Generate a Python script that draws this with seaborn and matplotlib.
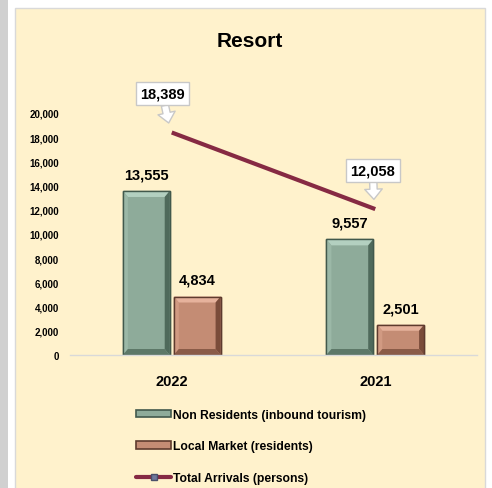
import pandas as pd
import matplotlib
matplotlib.use("Agg")
import matplotlib.pyplot as plt
from matplotlib.patches import Rectangle, Patch, Polygon
from matplotlib.lines import Line2D
import seaborn as sns

# data
years = ["2022", "2021"]
non_residents = [13555, 9557]
local_market = [4834, 2501]
total_arrivals = [18389, 12058]
series_names = ["Non Residents (inbound tourism)", "Local Market (residents)"]
line_name = "Total Arrivals (persons)"

df = pd.DataFrame({
    "Year": years * 2,
    "Series": [series_names[0]] * 2 + [series_names[1]] * 2,
    "Value": non_residents + local_market,
})

green = "#8eab9a"
brown = "#c48c74"
maroon = "#862a43"
beige = "#fff2cc"
# bevel shades: top, left, right, bottom, edge
shades = {
    green: ["#b3d0c0", "#9bb8a7", "#4f6a5b", "#5d7868", "#42594c"],
    brown: ["#e6b29c", "#d19a82", "#7a4c3a", "#8a5b47", "#5e3b2e"],
}

sns.set_theme(style="white")
plt.rcParams["font.family"] = ["Liberation Sans", "DejaVu Sans"]
plt.rcParams["font.weight"] = "bold"
plt.rcParams["text.color"] = "black"
plt.rcParams["xtick.color"] = "black"
plt.rcParams["ytick.color"] = "black"

fig = plt.figure(figsize=(4.92, 4.89), dpi=100)
fig.patch.set_facecolor("white")
# grey strip and chart panel
fig.patches.append(Rectangle((0, 0), 8 / 492, 1, transform=fig.transFigure,
                             fc="#d0d0d0", ec="none", zorder=-10))
fig.patches.append(Rectangle((15 / 492, -0.01), 470 / 492, 1 - 9 / 489 + 0.01,
                             transform=fig.transFigure, fc=beige, ec="#d9d9d9",
                             lw=1, zorder=-9))

ax = fig.add_axes([70 / 492, 1 - 356 / 489, 407 / 492, 242 / 489])
ax.set_facecolor("none")

sns.barplot(data=df, x="Year", y="Value", hue="Series", order=years,
            hue_order=series_names, palette=[green, brown], width=0.5,
            gap=0.08, ax=ax, legend=False, saturation=1)

ax.set_ylim(0, 20000)
ax.set_xlim(-0.5, 1.5)

# bevel look on each bar (derived from the bar patches)
bx, by = 5 / 203.5, 6 / 0.0121
for bars, c, vals in zip(ax.containers, [green, brown], [non_residents, local_market]):
    top, left, right, bottom, ec = shades[c]
    for p in bars:
        x, y, w, h = p.get_x(), p.get_y(), p.get_width(), p.get_height()
        p.set_edgecolor(ec)
        p.set_linewidth(1.0)
        polys = [
            ([(x, y + h), (x + w, y + h), (x + w - bx, y + h - by), (x + bx, y + h - by)], top),
            ([(x, y), (x, y + h), (x + bx, y + h - by), (x + bx, y + by)], left),
            ([(x + w, y), (x + w, y + h), (x + w - bx, y + h - by), (x + w - bx, y + by)], right),
            ([(x, y), (x + w, y), (x + w - bx, y + by), (x + bx, y + by)], bottom),
        ]
        for pts, col in polys:
            ax.add_patch(Polygon(pts, closed=True, fc=col, ec="none", zorder=p.get_zorder() + 0.1))
        ax.add_patch(Rectangle((x, y), w, h, fc="none", ec=ec, lw=1.0, zorder=p.get_zorder() + 0.2))
    ax.bar_label(bars, labels=[f"{v:,}" for v in vals], padding=7,
                 fontsize=10.5, fontweight="bold")

# total arrivals line
ax.plot(range(len(years)), total_arrivals, color=maroon, lw=3,
        solid_capstyle="butt", zorder=5)
for i, v in enumerate(total_arrivals):
    dx = -5 if i == 0 else 0
    ax.annotate(f"{v:,}", xy=(i - 0.005, v), xycoords="data",
                xytext=(dx - 1, 28), textcoords="offset points",
                ha="center", va="center", fontsize=10.5, fontweight="bold",
                bbox=dict(boxstyle="square,pad=0.3", fc="white", ec="#c8c8c8", lw=1),
                arrowprops=dict(arrowstyle="simple,head_width=1.2,head_length=0.7,tail_width=0.5",
                                fc="white", ec="#c8c8c8", shrinkA=0, shrinkB=7),
                annotation_clip=False, zorder=6)

ax.set_yticks(range(0, 20001, 2000))
ax.set_yticklabels([f"{v:,}" for v in range(0, 20001, 2000)], fontsize=7, fontweight="bold")
ax.tick_params(axis="y", length=0, pad=8)
ax.tick_params(axis="x", length=0, pad=14, labelsize=10.5)
for lab in ax.get_xticklabels():
    lab.set_fontweight("bold")
ax.set_xlabel("")
ax.set_ylabel("")
for s in ["left", "right", "top"]:
    ax.spines[s].set_visible(False)
ax.spines["bottom"].set_color("#d9d9d9")
ax.spines["bottom"].set_linewidth(1)

fig.text(250 / 492, 1 - 42 / 489, "Resort", ha="center", va="center",
         fontsize=15, fontweight="bold")

handles = [
    Patch(fc=green, ec=shades[green][4], lw=1.2),
    Patch(fc=brown, ec=shades[brown][4], lw=1.2),
    Line2D([0], [0], color=maroon, lw=3, marker="s", markersize=5,
           markerfacecolor="#6f789c", markeredgecolor="#4a4f6a"),
]
fig.legend(handles, series_names + [line_name], loc="upper center",
           bbox_to_anchor=(251 / 492, 1 - 399 / 489), frameon=False,
           handlelength=2.9, handleheight=0.55, handletextpad=0.1,
           labelspacing=1.6, prop={"weight": "bold", "size": 8.7})

fig.savefig("out.png", dpi=100, facecolor=fig.get_facecolor())
